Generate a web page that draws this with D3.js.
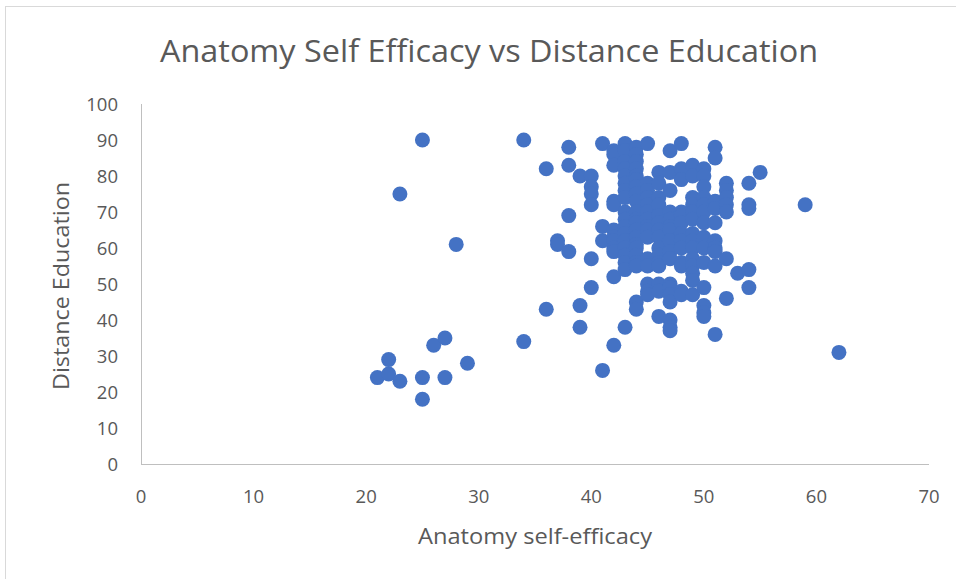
<!DOCTYPE html>
<html>
<head>
<meta charset="utf-8">
<script src="https://cdn.jsdelivr.net/npm/d3@7"></script>
<style>
  body { margin: 0; background: #fff; }
  text { font-family: "Open Sans", sans-serif; fill: #595959; }
</style>
</head>
<body>
<svg id="chart" width="956" height="579"></svg>
<script>
// chart values
const title = 'Anatomy Self Efficacy vs Distance Education';
const xLabel = 'Anatomy self-efficacy';
const yLabel = 'Distance Education';
const xTicks = [0, 10, 20, 30, 40, 50, 60, 70];
const yTicks = [0, 10, 20, 30, 40, 50, 60, 70, 80, 90, 100];

// points outside the main cluster
const outerX = [25, 23, 28, 34, 36, 38, 38, 39, 40, 40, 40, 40, 38, 37, 37, 38, 40, 36, 39, 40, 39, 34, 41, 42, 43, 42,
  22, 21, 22, 23, 25, 25, 26, 27, 27, 29, 59, 62, 55, 53, 54, 54, 54, 54, 54];
const outerY = [90, 75, 61, 90, 82, 88, 83, 80, 80, 77, 75, 72, 69, 62, 61, 59, 57, 43, 44, 49, 38, 34, 26, 33, 38, 52,
  29, 24, 25, 23, 24, 18, 33, 35, 24, 28, 72, 31, 81, 53, 54, 78, 72, 71, 49];

// main cluster, one list of y values per x column
const clusterCols = [41, 42, 43, 44, 45, 46, 47, 48, 49, 50, 51, 52];
const clusterYs = [
  [89, 66, 62],
  [87, 86, 83, 73, 72, 65, 63, 62, 60, 59],
  [89, 87, 84, 82, 80, 78, 76, 74, 70, 68, 66, 64, 62, 60, 58, 56, 54],
  [88, 86, 84, 82, 80, 79, 77, 75, 73, 70, 68, 67, 65, 63, 61, 60, 58, 56, 55, 45, 43],
  [89, 78, 76, 74, 72, 70, 68, 66, 65, 63, 57, 55, 50, 48, 47],
  [81, 78, 74, 72, 69, 67, 65, 63, 60, 58, 56, 55, 50, 48, 41],
  [87, 81, 76, 70, 68, 66, 65, 62, 59, 57, 50, 49, 47, 45, 40, 38, 37],
  [89, 82, 79, 70, 69, 67, 64, 62, 60, 56, 55, 48, 47],
  [83, 80, 74, 72, 70, 68, 64, 62, 60, 57, 55, 53, 51, 47],
  [82, 80, 77, 74, 72, 70, 67, 63, 60, 56, 49, 44, 42, 41],
  [88, 85, 73, 71, 67, 62, 60, 59, 55, 36],
  [78, 76, 74, 72, 70, 57, 46]
];

var points = outerX.map(function (d, i) { return { x: d, y: outerY[i] }; });
clusterCols.forEach(function (c, i) {
  clusterYs[i].forEach(function (v) { points.push({ x: c, y: v }); });
});

var svg = d3.select('#chart');

// outer chart frame (runs off the right and bottom edges)
svg.append('rect')
  .attr('x', 5.5).attr('y', 6.5)
  .attr('width', 1000).attr('height', 700)
  .attr('fill', '#fff')
  .attr('stroke', '#d9d9d9');

var x = d3.scaleLinear().domain([0, 70]).range([141, 929]);
var y = d3.scaleLinear().domain([0, 100]).range([464, 104]);

// axis lines
svg.append('line')
  .attr('x1', x(0)).attr('x2', x(70))
  .attr('y1', y(0) + 0.5).attr('y2', y(0) + 0.5)
  .attr('stroke', '#bfbfbf');
svg.append('line')
  .attr('x1', x(0) + 0.5).attr('x2', x(0) + 0.5)
  .attr('y1', y(0)).attr('y2', y(100))
  .attr('stroke', '#bfbfbf');

// tick labels
svg.selectAll('.xt')
  .data(xTicks)
  .enter().append('text')
  .attr('class', 'xt')
  .attr('x', function (d) { return x(d); })
  .attr('y', 503)
  .attr('text-anchor', 'middle')
  .attr('font-size', 18.5)
  .text(function (d) { return d; });

svg.selectAll('.yt')
  .data(yTicks)
  .enter().append('text')
  .attr('class', 'yt')
  .attr('x', 118)
  .attr('y', function (d) { return y(d) + 6.5; })
  .attr('text-anchor', 'end')
  .attr('font-size', 18.5)
  .text(function (d) { return d; });

// points
svg.append('g')
  .selectAll('circle')
  .data(points)
  .enter().append('circle')
  .attr('cx', function (d) { return x(d.x); })
  .attr('cy', function (d) { return y(d.y); })
  .attr('r', 7.5)
  .attr('fill', '#4472c4');

// title and axis titles
svg.append('text')
  .attr('x', 489).attr('y', 62)
  .attr('text-anchor', 'middle')
  .attr('font-size', 31)
  .attr('textLength', 658)
  .attr('lengthAdjust', 'spacingAndGlyphs')
  .text(title);

svg.append('text')
  .attr('x', 535).attr('y', 544)
  .attr('text-anchor', 'middle')
  .attr('font-size', 21)
  .attr('textLength', 234)
  .attr('lengthAdjust', 'spacingAndGlyphs')
  .text(xLabel);

svg.append('text')
  .attr('transform', 'translate(69,286) rotate(-90)')
  .attr('text-anchor', 'middle')
  .attr('font-size', 21)
  .attr('textLength', 208)
  .attr('lengthAdjust', 'spacingAndGlyphs')
  .text(yLabel);
</script>
</body>
</html>
